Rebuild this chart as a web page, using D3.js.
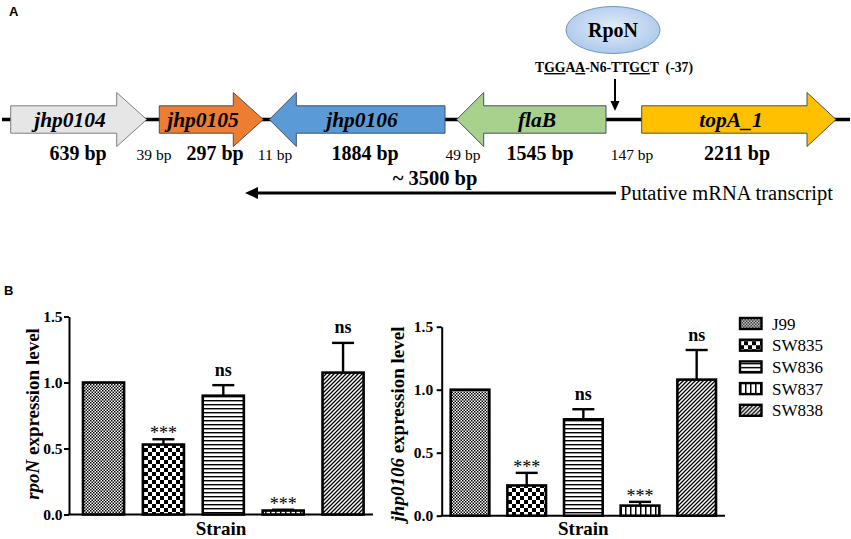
<!DOCTYPE html>
<html lang="en">
<head>
<meta charset="utf-8">
<title>rpoN / jhp0106 expression</title>
<script src="https://cdn.jsdelivr.net/npm/d3@7"></script>
<style>
  body { margin: 0; background: #fff; }
  svg { display: block; }
</style>
</head>
<body>
<script>
// ---- values ----
var strains = ["J99", "SW835", "SW836", "SW837", "SW838"];
var rpoNLevel = [1.00, 0.53, 0.90, 0.03, 1.075];
var rpoNErr = [0, 0.04, 0.08, 0.006, 0.225];
var jhpLevel = [1.00, 0.24, 0.765, 0.08, 1.08];
var jhpErr = [0, 0.10, 0.08, 0.03, 0.235];
var sigMarks = ["", "***", "ns", "***", "ns"];
var yTicks = [0, 0.5, 1.0, 1.5];

var geneNames = ["jhp0104", "jhp0105", "jhp0106", "flaB", "topA_1"];
var geneSizes = ["639 bp", "297 bp", "1884 bp", "1545 bp", "2211 bp"];
var geneStrand = [1, 1, -1, -1, 1];
var spacerSizes = ["39 bp", "11 bp", "49 bp", "147 bp"];

// ---- diagram layout (schematic, not to scale) ----
var geneSpan = [[10.7, 146.7], [159.3, 263.3], [269.3, 445], [456.7, 606], [641.7, 836]];
var geneHead = [30, 30, 27, 27, 29];
var geneFill = ["#e7e6e6", "#ed7d31", "#5b9bd5", "#a9d18e", "#ffc000"];
var nameX = [70, 203, 362, 537, 731];
var sizeX = [78, 215, 365, 540, 737];
var spacerX = [154, 275, 463, 632];

var SERIF = "'Liberation Serif', 'Times New Roman', serif";
var SANS = "'Liberation Sans', Arial, sans-serif";

var W = 851, H = 539;
var svg = d3.select("body").append("svg").attr("width", W).attr("height", H);
var defs = svg.append("defs");

// ---- fill patterns for the strains ----
function addPattern(id, w, h, draw) {
  var p = defs.append("pattern").attr("id", id)
    .attr("patternUnits", "userSpaceOnUse").attr("width", w).attr("height", h);
  p.append("rect").attr("width", w).attr("height", h).attr("fill", "#fff");
  draw(p);
}
addPattern("pat0", 3, 3, function(p) {
  p.append("rect").attr("width", 1.5).attr("height", 1.5).attr("fill", "#000");
  p.append("rect").attr("x", 1.5).attr("y", 1.5).attr("width", 1.5).attr("height", 1.5).attr("fill", "#000");
});
addPattern("pat1", 8, 8, function(p) {
  p.append("rect").attr("width", 4).attr("height", 4).attr("fill", "#000");
  p.append("rect").attr("x", 4).attr("y", 4).attr("width", 4).attr("height", 4).attr("fill", "#000");
});
addPattern("pat2", 4, 4, function(p) {
  p.append("rect").attr("y", 0).attr("width", 4).attr("height", 1.4).attr("fill", "#000");
});
addPattern("pat3", 5, 5, function(p) {
  p.append("rect").attr("x", 0).attr("width", 1.5).attr("height", 5).attr("fill", "#000");
});
addPattern("pat4", 4, 4, function(p) {
  p.append("path").attr("d", "M-1,1 L1,-1 M0,4 L4,0 M3,5 L5,3")
    .attr("stroke", "#000").attr("stroke-width", 1.3);
});

var grad = defs.append("radialGradient").attr("id", "rpoGrad")
  .attr("cx", "50%").attr("cy", "45%").attr("r", "60%");
grad.append("stop").attr("offset", "0%").attr("stop-color", "#e3edf9");
grad.append("stop").attr("offset", "100%").attr("stop-color", "#a9c6ea");

function serifText(sel, size, weight) {
  return sel.style("font-family", SERIF).style("font-size", size + "px")
    .style("font-weight", weight || "normal");
}

// ---- panel A: gene diagram ----
svg.append("text").attr("x", 9).attr("y", 15.5)
  .style("font-family", SANS)
  .style("font-weight", "bold").style("font-size", "13px").text("A");

var cy = 119.5, bodyH = 13.7, headH = 27;
var line = d3.line();

svg.append("line").attr("x1", 2).attr("x2", 850).attr("y1", cy).attr("y2", cy)
  .attr("stroke", "#000").attr("stroke-width", 3.5);

function arrowPoints(x0, x1, h, dir) {
  if (dir > 0) {
    return [[x0, cy - bodyH], [x1 - h, cy - bodyH], [x1 - h, cy - headH], [x1, cy],
      [x1 - h, cy + headH], [x1 - h, cy + bodyH], [x0, cy + bodyH]];
  }
  return [[x0, cy], [x0 + h, cy - headH], [x0 + h, cy - bodyH], [x1, cy - bodyH],
    [x1, cy + bodyH], [x0 + h, cy + bodyH], [x0 + h, cy + headH]];
}

var genes = svg.append("g").selectAll("g").data(geneNames).enter().append("g");
genes.append("path")
  .attr("d", function(d, i) {
    return line(arrowPoints(geneSpan[i][0], geneSpan[i][1], geneHead[i], geneStrand[i])) + "Z";
  })
  .attr("fill", function(d, i) { return geneFill[i]; })
  .attr("stroke", function(d, i) { return i == 0 ? "#7f7f7f" : "#41526b"; })
  .attr("stroke-width", 1);
serifText(genes.append("text"), 21.5, "bold")
  .attr("x", function(d, i) { return nameX[i]; })
  .attr("y", cy + 7)
  .attr("text-anchor", "middle")
  .style("font-style", "italic")
  .text(function(d) { return d; });
serifText(genes.append("text"), 20, "bold")
  .attr("x", function(d, i) { return sizeX[i]; })
  .attr("y", 159.5)
  .attr("text-anchor", "middle")
  .text(function(d, i) { return geneSizes[i]; });

serifText(svg.append("g").selectAll("text").data(spacerSizes).enter().append("text"), 15.5)
  .attr("x", function(d, i) { return spacerX[i]; })
  .attr("y", 159.5)
  .attr("text-anchor", "middle")
  .text(function(d) { return d; });

// RpoN binding site
svg.append("ellipse").attr("cx", 613).attr("cy", 30).attr("rx", 47).attr("ry", 23.5)
  .attr("fill", "url(#rpoGrad)").attr("stroke", "#7396c6").attr("stroke-width", 1);
serifText(svg.append("text"), 20, "bold").attr("x", 613).attr("y", 37)
  .attr("text-anchor", "middle").text("RpoN");

var motif = [["T", 0], ["GG", 1], ["A", 0], ["A", 1], ["-N6-TT", 0], ["GC", 1], ["T", 0], ["  (-37)", 0]];
var seq = serifText(svg.append("text"), 13.7, "bold").attr("x", 535).attr("y", 72)
  .style("white-space", "pre");
seq.selectAll("tspan").data(motif).enter().append("tspan")
  .style("text-decoration", function(d) { return d[1] ? "underline" : "none"; })
  .text(function(d) { return d[0]; });

svg.append("line").attr("x1", 615).attr("x2", 615).attr("y1", 79).attr("y2", 102)
  .attr("stroke", "#000").attr("stroke-width", 2);
svg.append("path").attr("d", line([[610.5, 101], [619.5, 101], [615, 111]]) + "Z").attr("fill", "#000");

// putative transcript
svg.append("line").attr("x1", 616).attr("x2", 256).attr("y1", 193).attr("y2", 193)
  .attr("stroke", "#000").attr("stroke-width", 3);
svg.append("path").attr("d", line([[245, 193], [258, 187], [258, 199]]) + "Z").attr("fill", "#000");
serifText(svg.append("text"), 20.5, "bold").attr("x", 435).attr("y", 185)
  .attr("text-anchor", "middle").text("~ 3500 bp");
serifText(svg.append("text"), 20.5).attr("x", 620).attr("y", 199.5)
  .text("Putative mRNA transcript");

// ---- panel B: bar charts ----
svg.append("text").attr("x", 4).attr("y", 295)
  .style("font-family", SANS)
  .style("font-weight", "bold").style("font-size", "13px").text("B");

function drawPanel(cfg) {
  var x = d3.scaleBand().domain(strains).range(cfg.xRange)
    .paddingInner(cfg.pad).paddingOuter(cfg.pad / 2);
  var y = d3.scaleLinear().domain([0, 1.5]).range(cfg.yRange);
  var g = svg.append("g");

  var yAxis = g.append("g").attr("transform", "translate(" + cfg.axisX + ",0)")
    .call(d3.axisLeft(y).tickValues(yTicks).tickFormat(d3.format(".1f"))
      .tickSize(5).tickSizeOuter(0).tickPadding(cfg.tickPad));
  yAxis.attr("font-family", null);
  yAxis.selectAll("path, line").attr("stroke", "#000").attr("stroke-width", 2);
  serifText(yAxis.selectAll("text"), 15.5, "bold").attr("fill", "#000");

  g.append("line").attr("x1", cfg.axisX - 1).attr("x2", cfg.xEnd)
    .attr("y1", y(0)).attr("y2", y(0))
    .attr("stroke", "#000").attr("stroke-width", 2);

  g.selectAll("rect.bar").data(cfg.values).enter().append("rect").attr("class", "bar")
    .attr("x", function(d, i) { return x(strains[i]); })
    .attr("y", function(d) { return y(d); })
    .attr("width", x.bandwidth())
    .attr("height", function(d) { return y(0) - y(d); })
    .attr("fill", function(d, i) { return "url(#pat" + i + ")"; })
    .attr("stroke", "#000").attr("stroke-width", 2.6);

  cfg.values.forEach(function(v, i) {
    var cx = x(strains[i]) + x.bandwidth() / 2;
    var e = cfg.errs[i];
    if (e > 0) {
      g.append("line").attr("x1", cx).attr("x2", cx).attr("y1", y(v)).attr("y2", y(v + e))
        .attr("stroke", "#000").attr("stroke-width", 2.4);
      g.append("line").attr("x1", cx - 11).attr("x2", cx + 11).attr("y1", y(v + e)).attr("y2", y(v + e))
        .attr("stroke", "#000").attr("stroke-width", 2.4);
    }
    var mark = sigMarks[i];
    if (mark) {
      var isNs = mark == "ns";
      serifText(g.append("text"), 18, isNs ? "bold" : "normal")
        .attr("x", cx).attr("y", y(v + e) - (isNs ? 9.5 : 0))
        .attr("text-anchor", "middle")
        .text(mark);
    }
  });

  var lab = serifText(g.append("text"), 19, "bold")
    .attr("transform", "translate(" + cfg.labelX + "," + cfg.labelY + ") rotate(-90)")
    .attr("text-anchor", "middle");
  lab.append("tspan").style("font-style", "italic").text(cfg.gene);
  lab.append("tspan").text(" expression level");

  serifText(g.append("text"), 19, "bold")
    .attr("x", (cfg.axisX + cfg.xEnd) / 2).attr("y", 535)
    .attr("text-anchor", "middle").text("Strain");
}

drawPanel({
  gene: "rpoN", values: rpoNLevel, errs: rpoNErr,
  axisX: 69, xEnd: 373, xRange: [73.6, 373], pad: 0.314, tickPad: 1.5,
  yRange: [514.5, 316.5], labelX: 39, labelY: 414
});
drawPanel({
  gene: "jhp0106", values: jhpLevel, errs: jhpErr,
  axisX: 441.7, xEnd: 725, xRange: [441.7, 725], pad: 0.318, tickPad: 3.5,
  yRange: [515.7, 326.7], labelX: 404, labelY: 424
});

// legend
var legend = svg.append("g").selectAll("g").data(strains).enter().append("g")
  .attr("transform", function(d, i) { return "translate(740," + (323.5 + i * 21.7) + ")"; });
legend.append("rect").attr("x", 0).attr("y", -5.5).attr("width", 21.5).attr("height", 11)
  .attr("fill", function(d, i) { return "url(#pat" + i + ")"; })
  .attr("stroke", "#000").attr("stroke-width", 2.4);
serifText(legend.append("text"), 17).attr("x", 32).attr("y", 6)
  .text(function(d) { return d; });
</script>
</body>
</html>
